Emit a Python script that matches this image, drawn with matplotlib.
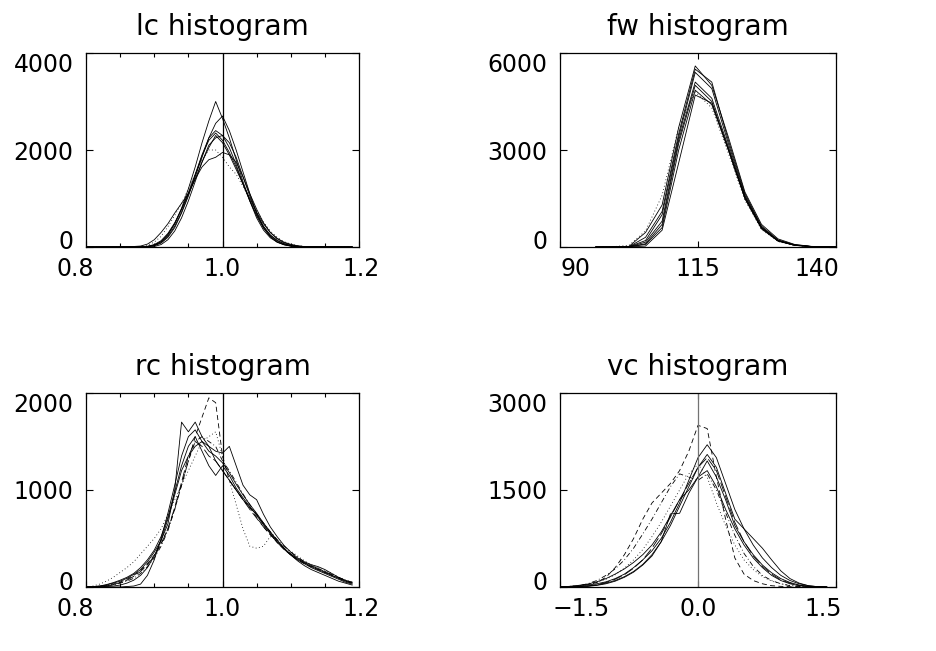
import matplotlib
matplotlib.use('agg')
import matplotlib.pyplot as plt
from matplotlib.ticker import FixedLocator, MultipleLocator, FuncFormatter
from matplotlib.transforms import ScaledTranslation


# IDL-like linestyles: solid, dotted, dashed, dash-dot, long dash
SOLID = '-'
DOT = (0, (1, 3))
DASH = (0, (6, 4))
DASHDOT = (0, (6, 3, 1, 3))
LONGDASH = (0, (12, 4))

# ---- lc histogram ----
lc_x = [0.80, 0.86, 0.88, 0.89, 0.90, 0.91, 0.92, 0.93, 0.94, 0.95, 0.96,
        0.97, 0.98, 0.99, 1.00, 1.01, 1.02, 1.03, 1.04, 1.05, 1.06, 1.07,
        1.08, 1.09, 1.10, 1.11, 1.12, 1.14, 1.19]
lc_counts = [
    [0, 0, 2, 10, 40, 110, 250, 480, 800, 1200, 1650, 2150, 2600, 3000, 2650,
     2250, 1800, 1350, 950, 600, 350, 190, 100, 50, 20, 8, 3, 0, 0],
    [0, 0, 0, 5, 25, 80, 200, 400, 700, 1050, 1450, 1850, 2250, 2550, 2700,
     2400, 2000, 1550, 1100, 700, 400, 210, 100, 45, 18, 6, 2, 0, 0],
    [0, 0, 2, 10, 40, 110, 260, 480, 780, 1120, 1500, 1900, 2250, 2400, 2300,
     2050, 1700, 1300, 950, 640, 390, 220, 110, 50, 22, 8, 3, 0, 0],
    [0, 0, 0, 0, 10, 50, 150, 330, 600, 950, 1350, 1750, 2100, 2250, 2300,
     2150, 1850, 1450, 1050, 700, 430, 240, 130, 65, 30, 12, 5, 1, 0],
    [0, 0, 5, 15, 50, 130, 280, 500, 780, 1100, 1400, 1650, 1800, 1850, 1950,
     1900, 1750, 1450, 1100, 780, 500, 300, 170, 90, 45, 20, 8, 2, 0],
    [0, 0, 10, 40, 100, 220, 420, 650, 900, 1200, 1500, 1800, 2000, 2000, 1850,
     1650, 1500, 1250, 1000, 750, 520, 330, 200, 110, 60, 30, 12, 3, 0],
    [0, 0, 0, 5, 30, 90, 220, 430, 720, 1080, 1480, 1880, 2200, 2350, 2200,
     1950, 1650, 1300, 960, 660, 420, 250, 140, 70, 32, 14, 5, 0, 0],
    [0, 2, 20, 60, 150, 300, 480, 700, 900, 1100, 1400, 1750, 2050, 2300, 2150,
     1900, 1600, 1300, 1000, 720, 480, 300, 180, 100, 55, 25, 10, 2, 0],
]
lc_styles = [SOLID, SOLID, SOLID, SOLID, SOLID, DOT, SOLID, SOLID]

# ---- fw histogram ----
fw_x = [96.5, 99.5, 102.5, 105.5, 108.5, 111.5, 114.5, 117.5, 120.5, 123.5,
        126.5, 129.5, 132.5, 135.5, 138.5, 141.5]
fw_counts = [
    [0, 5, 20, 450, 1300, 3700, 5600, 5000, 3400, 1700, 700, 250, 80, 20, 5, 0],
    [0, 0, 10, 300, 1100, 3500, 5500, 5100, 3300, 1650, 650, 220, 70, 18, 4, 0],
    [0, 0, 10, 200, 1000, 3400, 5400, 4900, 3200, 1600, 620, 200, 60, 15, 3, 0],
    [0, 0, 5, 150, 800, 3300, 5100, 4600, 3100, 1550, 600, 190, 55, 12, 3, 0],
    [0, 0, 5, 100, 700, 3200, 5000, 4500, 3000, 1500, 560, 180, 50, 12, 2, 0],
    [0, 10, 50, 500, 1600, 3700, 4800, 4300, 2900, 1450, 540, 170, 50, 10, 2, 0],
    [0, 0, 5, 80, 600, 3000, 4850, 4400, 3000, 1500, 580, 190, 55, 14, 3, 0],
    [0, 0, 0, 30, 520, 2600, 4700, 4450, 3050, 1550, 600, 200, 60, 15, 3, 0],
]
fw_styles = [SOLID, SOLID, SOLID, SOLID, SOLID, DOT, SOLID, SOLID]

# ---- rc histogram ----
rc_x = [0.80, 0.81, 0.82, 0.83, 0.84, 0.85, 0.86, 0.87, 0.88, 0.89,
        0.90, 0.91, 0.92, 0.93, 0.94, 0.95, 0.96, 0.97, 0.98, 0.99,
        1.00, 1.01, 1.02, 1.03, 1.04, 1.05, 1.06, 1.07, 1.08, 1.09,
        1.10, 1.11, 1.12, 1.13, 1.14, 1.15, 1.16, 1.17, 1.18, 1.19]
rc_counts = [
    [0, 0, 10, 20, 40, 60, 90, 130, 180, 260,
     360, 480, 650, 1000, 1700, 1600, 1700, 1550, 1450, 1300,
     1200, 1100, 1000, 900, 820, 750, 650, 560, 480, 400,
     340, 290, 250, 210, 180, 150, 120, 90, 60, 40],
    [0, 0, 0, 5, 10, 20, 40, 70, 120, 200,
     320, 480, 700, 950, 1200, 1350, 1450, 1500, 1450, 1400,
     1380, 1450, 1250, 1050, 950, 900, 750, 620, 520, 430,
     360, 300, 260, 230, 210, 180, 140, 100, 70, 50],
    [0, 5, 10, 25, 45, 70, 100, 140, 200, 280,
     380, 520, 720, 980, 1250, 1450, 1550, 1400, 1250, 1150,
     1250, 1150, 1020, 920, 830, 740, 640, 550, 460, 390,
     330, 280, 240, 200, 170, 140, 110, 80, 50, 30],
    [0, 0, 0, 0, 0, 0, 5, 10, 30, 120,
     280, 500, 760, 1050, 1350, 1550, 1620, 1500, 1400, 1350,
     1280, 1180, 1060, 950, 850, 760, 660, 570, 480, 400,
     330, 270, 220, 180, 150, 120, 90, 60, 40, 20],
    [0, 10, 30, 60, 100, 150, 200, 260, 340, 420,
     500, 600, 750, 900, 1050, 1200, 1350, 1500, 1550, 1600,
     1350, 1100, 850, 600, 420, 400, 420, 520, 480, 420,
     370, 320, 270, 230, 200, 170, 140, 100, 70, 50],
    [0, 0, 5, 15, 30, 50, 80, 120, 170, 240,
     330, 450, 600, 800, 1050, 1300, 1550, 1750, 1950, 1900,
     1350, 1100, 1000, 900, 820, 720, 620, 540, 460, 390,
     330, 280, 240, 210, 180, 150, 120, 90, 60, 40],
    [0, 0, 0, 10, 20, 40, 60, 90, 140, 210,
     300, 420, 580, 800, 1050, 1300, 1500, 1550, 1500, 1450,
     1300, 1200, 1080, 960, 850, 750, 660, 570, 490, 420,
     360, 310, 260, 220, 190, 160, 130, 100, 70, 45],
    [0, 0, 5, 10, 25, 45, 70, 110, 160, 230,
     320, 440, 600, 820, 1080, 1350, 1500, 1450, 1350, 1300,
     1200, 1100, 1000, 900, 800, 710, 620, 540, 470, 400,
     340, 290, 250, 220, 190, 160, 125, 95, 65, 40],
]
rc_styles = [SOLID, SOLID, SOLID, SOLID, DOT, DASH, DASHDOT, LONGDASH]

# ---- vc histogram ----
vc_x = [-1.5, -1.4, -1.3, -1.2, -1.1, -1.0, -0.9, -0.8, -0.7, -0.6,
        -0.5, -0.4, -0.3, -0.2, -0.1, 0.0, 0.1, 0.2, 0.3, 0.4,
        0.5, 0.6, 0.7, 0.8, 0.9, 1.0, 1.1, 1.2, 1.3, 1.4]
vc_counts = [
    [0, 5, 15, 30, 50, 80, 130, 200, 300, 420,
     560, 750, 1000, 1300, 1650, 2000, 2200, 2000, 1600, 1200,
     900, 650, 450, 300, 180, 100, 50, 20, 5, 0],
    [0, 0, 5, 15, 30, 60, 100, 160, 240, 350,
     500, 700, 950, 1250, 1550, 1850, 2050, 1850, 1450, 1050,
     900, 750, 600, 420, 250, 130, 60, 20, 5, 0],
    [0, 10, 25, 45, 80, 130, 200, 280, 380, 500,
     650, 850, 1100, 1350, 1500, 1700, 1950, 1700, 1350, 950,
     700, 500, 340, 220, 130, 70, 30, 10, 0, 0],
    [0, 0, 0, 10, 25, 50, 90, 150, 230, 340,
     480, 700, 1130, 1140, 1450, 1700, 1800, 1550, 1200, 900,
     650, 450, 300, 180, 100, 50, 20, 5, 0, 0],
    [0, 10, 20, 40, 70, 120, 190, 290, 420, 580,
     780, 1000, 1250, 1500, 1750, 1900, 1700, 1300, 950, 650,
     420, 270, 160, 90, 50, 25, 10, 0, 0, 0],
    [0, 5, 15, 35, 70, 150, 300, 500, 750, 1050,
     1300, 1450, 1600, 1800, 2100, 2500, 2450, 1700, 1050, 450,
     200, 100, 50, 20, 10, 5, 0, 0, 0, 0],
    [0, 5, 20, 50, 100, 180, 280, 420, 600, 820,
     1050, 1300, 1550, 1750, 1700, 1650, 1750, 1500, 1150, 800,
     520, 320, 180, 100, 50, 20, 5, 0, 0, 0],
    [0, 0, 5, 15, 35, 70, 120, 190, 290, 420,
     600, 820, 1080, 1350, 1600, 1850, 2000, 1800, 1400, 1000,
     700, 480, 320, 200, 110, 60, 25, 10, 0, 0],
]
vc_styles = [SOLID, SOLID, SOLID, SOLID, DOT, DASH, DASHDOT, LONGDASH]

panels = [
    # title, x, counts, styles, xlim, xticks, minor step, ymax, ref line, fmt
    ('lc histogram', lc_x, lc_counts, lc_styles, (0.8, 1.2),
     [0.8, 1.0, 1.2], 0.05, 4000, (1.0, 'black'), '{:.1f}'),
    ('fw histogram', fw_x, fw_counts, fw_styles, (90, 140),
     [90, 115, 140], None, 6000, None, '{:.0f}'),
    ('rc histogram', rc_x, rc_counts, rc_styles, (0.8, 1.2),
     [0.8, 1.0, 1.2], 0.05, 2000, (1.0, 'black'), '{:.1f}'),
    ('vc histogram', vc_x, vc_counts, vc_styles, (-1.5, 1.5),
     [-1.5, 0.0, 1.5], None, 3000, (0.0, '0.45'), '{:.1f}'),
]

# axes boxes in figure fraction
W, H = 937.0, 651.0
boxes = [
    (86 / W, 1 - 247 / H, 273 / W, 194 / H),
    (560 / W, 1 - 247 / H, 276 / W, 194 / H),
    (86 / W, 1 - 587 / H, 273 / W, 194 / H),
    (560 / W, 1 - 587 / H, 276 / W, 194 / H),
]

# IDL nudges the end labels a bit; pixel offsets for x labels (left, mid, right)
x_label_shift = [(-11, 0, 2), (16, 0, -19), (-11, 0, 2), (21, 0, -13)]
# y labels: bottom label up, top label down (pixels)
y_label_shift = (7, 0, -10)


def fmt_label(template):
    def f(v, pos):
        return template.format(v).replace('-', '\u2212')
    return FuncFormatter(f)


def nudge(label, dx, dy):
    label.set_transform(label.get_transform() +
                        ScaledTranslation(dx / 100.0, dy / 100.0,
                                          fig.dpi_scale_trans))


plt.rcParams['font.family'] = ['DejaVu Sans']
fig = plt.figure(figsize=(9.37, 6.51), dpi=100)

axes = []
for box, (title, x, counts, styles, xlim, xticks, minor, ymax,
          ref, xfmt) in zip(boxes, panels):
    ax = fig.add_axes(box)
    for y, ls in zip(counts, styles):
        ax.plot(x, y, color='black', lw=0.6, linestyle=ls)
    if ref is not None:
        ax.axvline(ref[0], color=ref[1], lw=0.9)
    ax.set_xlim(*xlim)
    ax.set_ylim(0, ymax)
    ax.xaxis.set_major_locator(FixedLocator(xticks))
    ax.xaxis.set_major_formatter(fmt_label(xfmt))
    if minor:
        ax.xaxis.set_minor_locator(MultipleLocator(minor))
    ax.yaxis.set_major_locator(FixedLocator([0, ymax / 2, ymax]))
    ax.yaxis.set_major_formatter(FuncFormatter(lambda v, p: '%d' % v))
    ax.tick_params(which='both', direction='in', top=True, right=True,
                   labelsize=17, width=0.8)
    ax.tick_params(axis='x', which='major', length=4, pad=7)
    ax.tick_params(axis='x', which='minor', length=3)
    ax.tick_params(axis='y', which='major', length=5, pad=9)
    for sp in ax.spines.values():
        sp.set_linewidth(0.9)
    ax.set_title(title, fontsize=20, pad=13)
    axes.append(ax)

fig.canvas.draw()
for ax, xs in zip(axes, x_label_shift):
    for tick, dx in zip(ax.xaxis.get_major_ticks(), xs):
        nudge(tick.label1, dx, 0)
    for tick, dy in zip(ax.yaxis.get_major_ticks(), y_label_shift):
        nudge(tick.label1, 0, dy)

fig.savefig('out.png', dpi=100)
